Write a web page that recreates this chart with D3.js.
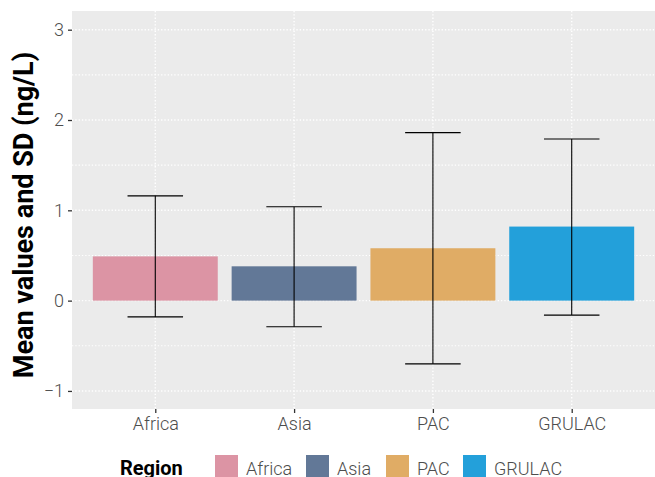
<html>
<head>
<script src="https://cdn.jsdelivr.net/npm/d3@7"></script>
<style>
  body { margin: 0; background: #fff; }
  svg { font-family: Roboto, sans-serif; }
</style>
</head>
<body>
<div id="container"></div>
<script>
// data
var regions = ["Africa", "Asia", "PAC", "GRULAC"];
var means   = [0.49, 0.38, 0.58, 0.82];
var lowers  = [-0.18, -0.29, -0.70, -0.16];
var uppers  = [1.16, 1.04, 1.86, 1.79];
var colours = ["#DC94A4", "#627897", "#E0AC65", "#23A0DA"];
var yTicks  = [-1, 0, 1, 2, 3];
var yMinor  = [-0.5, 0.5, 1.5, 2.5];

var width = 655, height = 477;
var pLeft = 72, pRight = 655, pTop = 11, pBottom = 409;

var svg = d3.select("#container").append("svg")
  .attr("width", width).attr("height", height);

var x = d3.scalePoint().domain(regions).range([pLeft, pRight]).padding(0.6);
var step = x.step();
var y = d3.scaleLinear().domain([-1.2, 3.207]).range([pBottom, pTop]);

var colour = d3.scaleOrdinal().domain(regions).range(colours);

// panel
svg.append("rect")
  .attr("x", pLeft).attr("y", pTop)
  .attr("width", pRight - pLeft).attr("height", pBottom - pTop)
  .attr("fill", "#EBEBEB");

var grid = svg.append("g")
  .attr("stroke", "#fff").attr("stroke-dasharray", "1.3,2").attr("fill", "none");

grid.selectAll(".minor").data(yMinor).enter().append("line")
  .attr("x1", pLeft).attr("x2", pRight)
  .attr("y1", function(d){ return y(d); }).attr("y2", function(d){ return y(d); })
  .attr("stroke-width", 1.1);

grid.selectAll(".major").data(yTicks).enter().append("line")
  .attr("x1", pLeft).attr("x2", pRight)
  .attr("y1", function(d){ return y(d); }).attr("y2", function(d){ return y(d); })
  .attr("stroke-width", 1.4);

grid.selectAll(".vmajor").data(regions).enter().append("line")
  .attr("y1", pTop).attr("y2", pBottom)
  .attr("x1", function(d){ return x(d); }).attr("x2", function(d){ return x(d); })
  .attr("stroke-width", 1.4);

// bars
var data = regions.map(function(r, i){
  return { region: r, mean: means[i], lo: lowers[i], hi: uppers[i] };
});

var barW = step * 0.9;
svg.append("g").selectAll("rect").data(data).enter().append("rect")
  .attr("x", function(d){ return x(d.region) - barW / 2; })
  .attr("width", barW)
  .attr("y", function(d){ return y(Math.max(0, d.mean)); })
  .attr("height", function(d){ return Math.abs(y(d.mean) - y(0)); })
  .attr("fill", function(d){ return colour(d.region); });

// error bars
var capW = step * 0.4;
var eb = svg.append("g").attr("stroke", "#000").attr("stroke-width", 1.1).attr("fill", "none");
eb.selectAll(".v").data(data).enter().append("line")
  .attr("x1", function(d){ return x(d.region); }).attr("x2", function(d){ return x(d.region); })
  .attr("y1", function(d){ return y(d.lo); }).attr("y2", function(d){ return y(d.hi); });
eb.selectAll(".t").data(data).enter().append("line")
  .attr("x1", function(d){ return x(d.region) - capW / 2; })
  .attr("x2", function(d){ return x(d.region) + capW / 2; })
  .attr("y1", function(d){ return y(d.hi); }).attr("y2", function(d){ return y(d.hi); });
eb.selectAll(".b").data(data).enter().append("line")
  .attr("x1", function(d){ return x(d.region) - capW / 2; })
  .attr("x2", function(d){ return x(d.region) + capW / 2; })
  .attr("y1", function(d){ return y(d.lo); }).attr("y2", function(d){ return y(d.lo); });

// axes
var yAxis = d3.axisLeft(y).tickValues(yTicks).tickSize(4).tickPadding(4)
  .tickFormat(function(d){ return d < 0 ? "\u2212" + Math.abs(d) : d; });
var gy = svg.append("g").attr("transform", "translate(" + pLeft + ",0)").call(yAxis);
gy.select(".domain").remove();
gy.selectAll(".tick line").attr("stroke", "#333").attr("stroke-width", 1.3);
gy.selectAll(".tick text").attr("fill", "#4D4D4D").attr("font-size", 18)
  .attr("font-weight", 300).attr("font-family", "Roboto");

var xAxis = d3.axisBottom(x).tickSize(4).tickPadding(4);
var gx = svg.append("g").attr("transform", "translate(0," + pBottom + ")").call(xAxis);
gx.select(".domain").remove();
gx.selectAll(".tick line").attr("stroke", "#333").attr("stroke-width", 1.3);
gx.selectAll(".tick text").attr("fill", "#4D4D4D").attr("font-size", 18)
  .attr("font-weight", 300).attr("font-family", "Roboto");

// y title
svg.append("text")
  .attr("transform", "translate(33,215) rotate(-90)")
  .attr("text-anchor", "middle")
  .attr("font-size", 27).attr("font-weight", "bold").attr("fill", "#000")
  .text("Mean values and SD (ng/L)");

// legend
var lg = svg.append("g");
lg.append("text").attr("x", 120).attr("y", 475)
  .attr("font-size", 20).attr("font-weight", "bold").attr("fill", "#000")
  .text("Region");
var keyX = [215, 306, 386, 463];
var items = lg.selectAll(".item").data(regions).enter().append("g")
  .attr("transform", function(d, i){ return "translate(" + keyX[i] + ",455)"; });
items.append("rect").attr("width", 23).attr("height", 23)
  .attr("fill", function(d){ return colour(d); });
items.append("text").attr("x", 31).attr("y", 20)
  .attr("font-size", 18).attr("font-weight", 300).attr("fill", "#4D4D4D")
  .text(function(d){ return d; });
</script>
</body>
</html>
